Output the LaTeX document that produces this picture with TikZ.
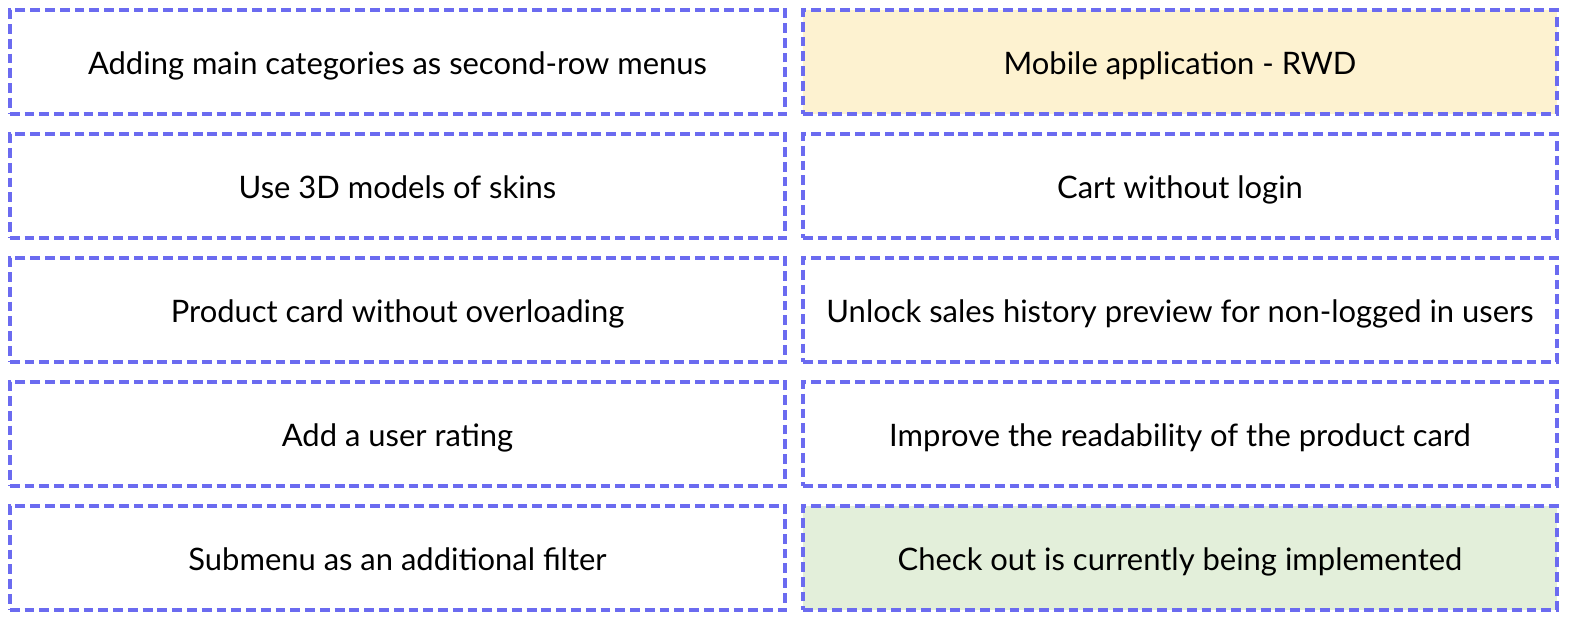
\documentclass[tikz,border=0pt]{standalone}
\usepackage{fontspec}
\setmainfont{Lato}
\definecolor{dashblue}{HTML}{6B6BF0}
\definecolor{rwdyellow}{HTML}{FDF2D0}
\definecolor{doneGreen}{HTML}{E3EFDA}
\tikzset{
  idea/.style={draw=dashblue,line width=1.25pt,dash pattern=on 2.8pt off 1.4pt,
    minimum height=1.04cm,inner sep=0pt,text height=1.6ex,text depth=0.2ex,
    font=\fontsize{8.8}{10}\selectfont},
  leftidea/.style={idea,minimum width=7.75cm},
  rightidea/.style={idea,minimum width=7.54cm}
}
\begin{document}
\begin{tikzpicture}[x=0.01cm,y=-0.01cm]
	\useasboundingbox (0,0) rectangle (1590,632);
	\node[leftidea](l1)at(397.5,62){Adding main categories as second-row menus};
	\node[leftidea](l2)at(397.5,186){Use 3D models of skins};
	\node[leftidea](l3)at(397.5,310){Product card without overloading};
	\node[leftidea](l4)at(397.5,434){Add a user rating};
	\node[leftidea](l5)at(397.5,558){Submenu as an additional filter};
	
	\node[rightidea,fill=rwdyellow](r1)at(1180,62){Mobile application - RWD};
	\node[rightidea](r2)at(1180,186){Cart without login};
	\node[rightidea](r3)at(1180,310){Unlock sales history preview for non-logged in users};
	\node[rightidea](r4)at(1180,434){Improve the readability of the product card};
	\node[rightidea,fill=doneGreen](r5)at(1180,558){Check out is currently being implemented};
\end{tikzpicture}
\end{document}
